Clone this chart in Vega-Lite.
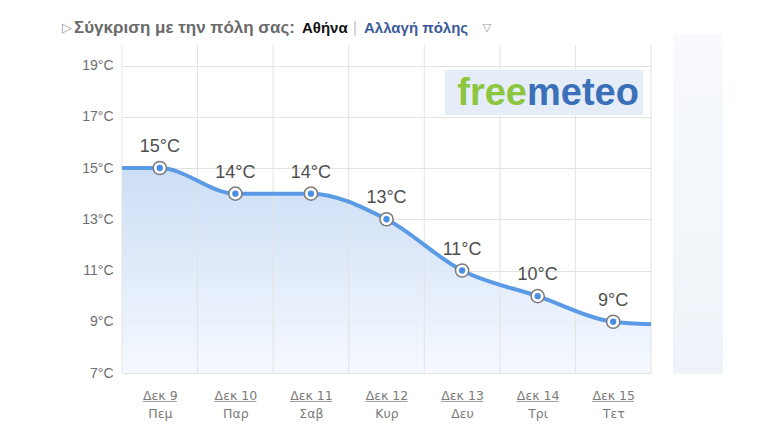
{
  "$schema": "https://vega.github.io/schema/vega-lite/v6.json",
  "width": 529,
  "height": 328,
  "autosize": "none",
  "padding": {"left": 122, "top": 45, "right": 119, "bottom": 60},
  "background": "white",
  "config": {"view": {"stroke": null}, "font": "Liberation Sans"},
  "datasets": {
    "grid": [{"g": -0.5}, {"g": 0.5}, {"g": 1.5}, {"g": 2.5}, {"g": 3.5}, {"g": 4.5}, {"g": 5.5}, {"g": 6.5}],
    "curve": [
      {"i": -0.5, "t": 15},
      {"i": 0, "t": 15},
      {"i": 1, "t": 14},
      {"i": 2, "t": 14},
      {"i": 3, "t": 13},
      {"i": 4, "t": 11},
      {"i": 5, "t": 10},
      {"i": 6, "t": 9},
      {"i": 6.5, "t": 8.9}
    ],
    "days": [
      {"i": 0, "date": "Δεκ 9", "day": "Πεμ", "t": 15},
      {"i": 1, "date": "Δεκ 10", "day": "Παρ", "t": 14},
      {"i": 2, "date": "Δεκ 11", "day": "Σαβ", "t": 14},
      {"i": 3, "date": "Δεκ 12", "day": "Κυρ", "t": 13},
      {"i": 4, "date": "Δεκ 13", "day": "Δευ", "t": 11},
      {"i": 5, "date": "Δεκ 14", "day": "Τρι", "t": 10},
      {"i": 6, "date": "Δεκ 15", "day": "Τετ", "t": 9}
    ],
    "one": [{}]
  },
  "layer": [
    {
      "data": {"name": "curve"},
      "mark": {
        "type": "area", "interpolate": "monotone", "fillOpacity": 0.85,
        "fill": {
          "x1": 0, "y1": 0, "x2": 0, "y2": 1, "gradient": "linear",
          "stops": [{"offset": 0, "color": "#c3d8f4"}, {"offset": 1, "color": "#f4f8fe"}]
        }
      },
      "encoding": {
        "x": {
          "field": "i", "type": "quantitative", "title": null,
          "scale": {"domain": [-0.5, 6.5], "nice": false, "zero": false},
          "axis": {
            "values": [0, 1, 2, 3, 4, 5, 6],
            "grid": false, "domain": false, "ticks": false,
            "labelExpr": "[['Δεκ 9','Δεκ 10','Δεκ 11','Δεκ 12','Δεκ 13','Δεκ 14','Δεκ 15'][datum.value], ['Πεμ','Παρ','Σαβ','Κυρ','Δευ','Τρι','Τετ'][datum.value]]",
            "labelColor": "#7a7a7a", "labelFont": "DejaVu Sans", "labelFontSize": 12.5, "labelPadding": 16,
            "labelLineHeight": 18
          }
        },
        "y": {
          "field": "t", "type": "quantitative", "title": null,
          "scale": {"domain": [7, 19.8], "nice": false, "zero": false},
          "axis": {
            "values": [7, 9, 11, 13, 15, 17, 19],
            "grid": true, "gridColor": "#e3e3e3", "domain": false, "ticks": false,
            "labelExpr": "datum.value + '°C'",
            "labelColor": "#6e6e6e", "labelFontSize": 14, "labelPadding": 9
          }
        },
        "y2": {"datum": 7}
      }
    },
    {
      "data": {"name": "grid"},
      "mark": {"type": "rule", "color": "#e3e3e3", "strokeWidth": 1},
      "encoding": {
        "x": {"field": "g", "type": "quantitative", "title": null}
      }
    },
    {
      "data": {"name": "curve"},
      "mark": {"type": "line", "interpolate": "monotone", "color": "#5b9be6", "strokeWidth": 4},
      "encoding": {
        "x": {"field": "i", "type": "quantitative", "title": null},
        "y": {"field": "t", "type": "quantitative", "title": null}
      }
    },
    {
      "data": {"name": "days"},
      "mark": {"type": "point", "filled": true, "fill": "white", "size": 175, "stroke": "#7a7a7a", "strokeWidth": 1.5, "opacity": 1},
      "encoding": {
        "x": {"field": "i", "type": "quantitative", "title": null},
        "y": {"field": "t", "type": "quantitative", "title": null}
      }
    },
    {
      "data": {"name": "days"},
      "mark": {"type": "circle", "size": 40, "color": "#4a8ee4", "opacity": 1},
      "encoding": {
        "x": {"field": "i", "type": "quantitative", "title": null},
        "y": {"field": "t", "type": "quantitative", "title": null}
      }
    },
    {
      "data": {"name": "days"},
      "transform": [{"calculate": "datum.t + '°C'", "as": "lbl"}],
      "mark": {"type": "text", "dy": -21, "fontSize": 18, "color": "#4f4f4f", "baseline": "middle"},
      "encoding": {
        "x": {"field": "i", "type": "quantitative", "title": null},
        "y": {"field": "t", "type": "quantitative", "title": null},
        "text": {"field": "lbl"}
      }
    },
    {
      "data": {"name": "days"},
      "transform": [{"filter": "datum.i == 0"}],
      "mark": {"type": "rule", "color": "#9a9a9a", "strokeWidth": 1, "xOffset": -17, "x2Offset": 17},
      "encoding": {
        "x": {"field": "i", "type": "quantitative", "title": null},
        "x2": {"field": "i"},
        "y": {"datum": 5.89, "type": "quantitative", "title": null}
      }
    },
    {
      "data": {"name": "days"},
      "transform": [{"filter": "datum.i > 0"}],
      "mark": {"type": "rule", "color": "#9a9a9a", "strokeWidth": 1, "xOffset": -21, "x2Offset": 21},
      "encoding": {
        "x": {"field": "i", "type": "quantitative", "title": null},
        "x2": {"field": "i"},
        "y": {"datum": 5.89, "type": "quantitative", "title": null}
      }
    },
    {
      "data": {"name": "one"},
      "mark": {
        "type": "rect",
        "fill": {
          "x1": 0, "y1": 0, "x2": 0, "y2": 1, "gradient": "linear",
          "stops": [{"offset": 0, "color": "#f8fafd"}, {"offset": 1, "color": "#eef3f9"}]
        }
      },
      "encoding": {
        "x": {"datum": 6.791, "type": "quantitative", "title": null},
        "x2": {"datum": 7.453},
        "y": {"datum": 20.23, "type": "quantitative", "title": null},
        "y2": {"datum": 6.97}
      }
    },
    {
      "data": {"name": "one"},
      "mark": {"type": "rect", "fill": "#e5eef8"},
      "encoding": {
        "x": {"datum": 3.774, "type": "quantitative", "title": null},
        "x2": {"datum": 6.394},
        "y": {"datum": 18.82, "type": "quantitative", "title": null},
        "y2": {"datum": 17.07}
      }
    },
    {
      "data": {"name": "one"},
      "mark": {"type": "text", "text": "free", "align": "right", "baseline": "alphabetic", "fontSize": 38, "fontWeight": "bold", "color": "#8cc63e"},
      "encoding": {
        "x": {"datum": 4.859, "type": "quantitative", "title": null},
        "y": {"datum": 17.46, "type": "quantitative", "title": null}
      }
    },
    {
      "data": {"name": "one"},
      "mark": {"type": "text", "text": "meteo", "align": "left", "baseline": "alphabetic", "fontSize": 38, "fontWeight": "bold", "color": "#3b70b8"},
      "encoding": {
        "x": {"datum": 4.859, "type": "quantitative", "title": null},
        "y": {"datum": 17.46, "type": "quantitative", "title": null}
      }
    },
    {
      "data": {"name": "one"},
      "mark": {"type": "text", "text": "▷", "align": "left", "baseline": "middle", "fontSize": 13, "color": "#999999", "font": "DejaVu Sans"},
      "encoding": {
        "x": {"datum": -1.294, "type": "quantitative", "title": null},
        "y": {"datum": 20.48, "type": "quantitative", "title": null}
      }
    },
    {
      "data": {"name": "one"},
      "mark": {"type": "text", "text": "Σύγκριση με την πόλη σας:", "align": "left", "baseline": "middle", "fontSize": 17, "fontWeight": "bold", "color": "#6a6a6a"},
      "encoding": {
        "x": {"datum": -1.135, "type": "quantitative", "title": null},
        "y": {"datum": 20.48, "type": "quantitative", "title": null}
      }
    },
    {
      "data": {"name": "one"},
      "mark": {"type": "text", "text": "Αθήνα", "align": "left", "baseline": "middle", "fontSize": 15, "fontWeight": "bold", "color": "#111111"},
      "encoding": {
        "x": {"datum": 1.882, "type": "quantitative", "title": null},
        "y": {"datum": 20.48, "type": "quantitative", "title": null}
      }
    },
    {
      "data": {"name": "one"},
      "mark": {"type": "text", "text": "|", "align": "center", "baseline": "middle", "fontSize": 17, "color": "#c8c8c8"},
      "encoding": {
        "x": {"datum": 2.583, "type": "quantitative", "title": null},
        "y": {"datum": 20.48, "type": "quantitative", "title": null}
      }
    },
    {
      "data": {"name": "one"},
      "mark": {"type": "text", "text": "Αλλαγή πόλης", "align": "left", "baseline": "middle", "fontSize": 15, "fontWeight": "bold", "color": "#3d5b98"},
      "encoding": {
        "x": {"datum": 2.702, "type": "quantitative", "title": null},
        "y": {"datum": 20.48, "type": "quantitative", "title": null}
      }
    },
    {
      "data": {"name": "one"},
      "mark": {"type": "text", "text": "▽", "align": "center", "baseline": "middle", "fontSize": 11, "color": "#999999", "font": "DejaVu Sans"},
      "encoding": {
        "x": {"datum": 4.33, "type": "quantitative", "title": null},
        "y": {"datum": 20.48, "type": "quantitative", "title": null}
      }
    }
  ]
}
